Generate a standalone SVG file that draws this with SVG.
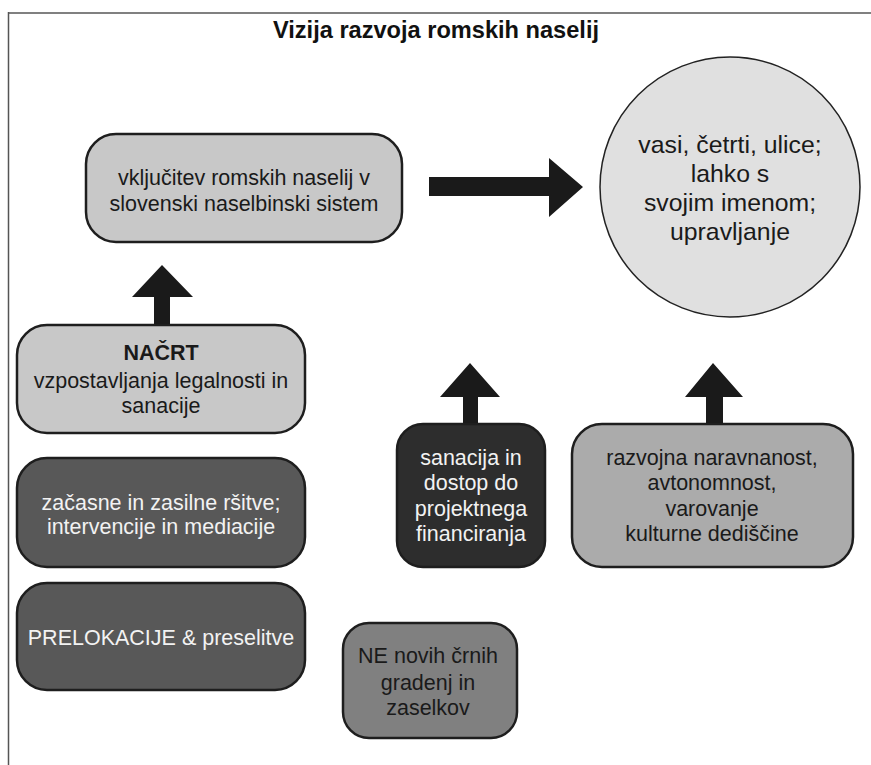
<svg xmlns="http://www.w3.org/2000/svg" width="871" height="765" viewBox="0 0 871 765">
<style>
  text { font-family: "Liberation Sans", Arial, sans-serif; text-anchor: middle; }
  .t { font-size: 21.5px; fill: #1a1a1a; }
  .w { font-size: 21.5px; fill: #f2f2f2; }
  .box { stroke: #1e1e1e; stroke-width: 2.5; }
  .arr { fill: #1a1a1a; }
</style>
<rect width="871" height="765" fill="#ffffff"/>
<g id="frame">
  <line x1="8" y1="13" x2="871" y2="13" stroke="#808080" stroke-width="2"/>
  <line x1="8.5" y1="12" x2="8.5" y2="765" stroke="#555555" stroke-width="1.5"/>
</g>
<text id="title" x="436" y="38" style="font-size:23.6px;font-weight:bold;fill:#111">Vizija razvoja romskih naselij</text>

<g id="connectors">
  <polygon class="arr" points="429,177 549,177 549,158 583,187 549,217 549,196 429,196"/>
  <polygon class="arr" points="154,325 154,297 132,297 162,265 193,297 170,297 170,325"/>
  <polygon class="arr" points="463,425 463,397 440,397 470,363 500,397 478,397 478,425"/>
  <polygon class="arr" points="706,425 706,397 685,397 713,363 743,397 723,397 723,425"/>
</g>

<g id="n-vkljucitev">
  <rect class="box" x="86" y="134" width="316" height="108" rx="30" fill="#c8c8c8"/>
  <text class="t" x="244" y="185">vključitev romskih naselij v</text>
  <text class="t" x="244" y="211">slovenski naselbinski sistem</text>
</g>

<g id="n-vasi">
  <circle cx="730" cy="187" r="130" fill="#e0e0e0" stroke="#222" stroke-width="1.5"/>
  <text x="730" y="153" style="font-size:24.8px;fill:#1a1a1a">vasi, četrti, ulice;</text>
  <text x="730" y="182" style="font-size:24.8px;fill:#1a1a1a">lahko s</text>
  <text x="730" y="211" style="font-size:24.8px;fill:#1a1a1a">svojim imenom;</text>
  <text x="730" y="240" style="font-size:24.8px;fill:#1a1a1a">upravljanje</text>
</g>

<g id="n-nacrt">
  <rect class="box" x="17" y="325" width="288" height="108" rx="30" fill="#c8c8c8"/>
  <text class="t" x="161" y="360" style="font-weight:bold">NAČRT</text>
  <text class="t" x="161" y="388">vzpostavljanja legalnosti in</text>
  <text class="t" x="161" y="413">sanacije</text>
</g>

<g id="n-zacasne">
  <rect class="box" x="17" y="458" width="288" height="109" rx="30" fill="#585858"/>
  <text class="w" x="161" y="510">začasne in zasilne ršitve;</text>
  <text class="w" x="161" y="534">intervencije in mediacije</text>
</g>

<g id="n-prelokacije">
  <rect class="box" x="17" y="583" width="288" height="107" rx="30" fill="#585858"/>
  <text class="w" x="161" y="645">PRELOKACIJE &amp; preselitve</text>
</g>

<g id="n-sanacija">
  <rect class="box" x="397" y="424" width="148" height="143" rx="26" fill="#2d2d2d"/>
  <text class="w" x="471" y="465">sanacija in</text>
  <text class="w" x="471" y="490">dostop do</text>
  <text class="w" x="471" y="516">projektnega</text>
  <text class="w" x="471" y="541">financiranja</text>
</g>

<g id="n-razvojna">
  <rect class="box" x="572" y="424" width="281" height="143" rx="30" fill="#ababab"/>
  <text class="t" x="712" y="465">razvojna naravnanost,</text>
  <text class="t" x="712" y="490">avtonomnost,</text>
  <text class="t" x="712" y="516">varovanje</text>
  <text class="t" x="712" y="541">kulturne dediščine</text>
</g>

<g id="n-ne">
  <rect class="box" x="343" y="623" width="174" height="115" rx="26" fill="#808080"/>
  <text class="t" x="428" y="663">NE novih črnih</text>
  <text class="t" x="428" y="690">gradenj in</text>
  <text class="t" x="428" y="715">zaselkov</text>
</g>
</svg>
